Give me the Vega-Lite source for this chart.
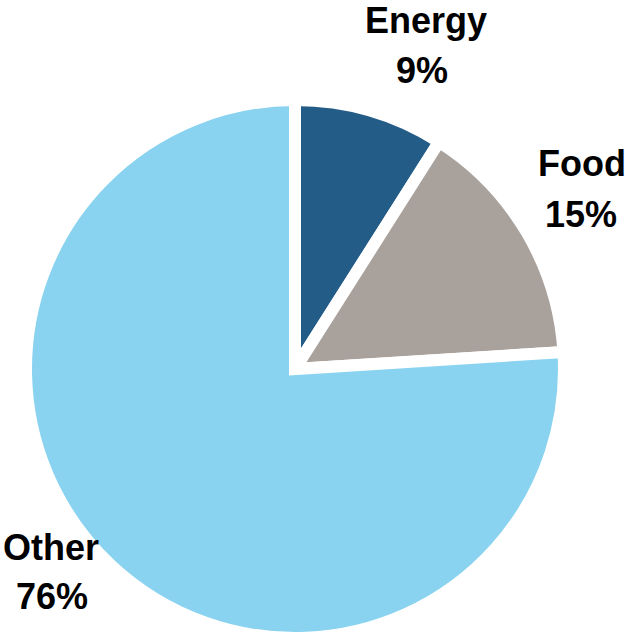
{
  "$schema": "https://vega.github.io/schema/vega-lite/v6.json",
  "width": 532,
  "height": 532,
  "autosize": {"type": "none"},
  "padding": {"left": 29, "top": 103, "right": 64, "bottom": 0},
  "background": "white",
  "data": {
    "values": [
      {"category": "Energy", "value": 9, "pct": "9%"},
      {"category": "Food", "value": 15, "pct": "15%"},
      {"category": "Other", "value": 76, "pct": "76%"}
    ]
  },
  "encoding": {
    "theta": {"field": "value", "type": "quantitative", "stack": true},
    "order": {"field": "category", "type": "nominal"}
  },
  "layer": [
    {
      "mark": {"type": "arc", "outerRadius": 269, "stroke": "white", "strokeWidth": 12, "strokeJoin": "miter"},
      "encoding": {
        "color": {
          "field": "category",
          "type": "nominal",
          "scale": {"domain": ["Energy", "Food", "Other"], "range": ["#245C88", "#A9A19C", "#89D3F0"]},
          "legend": null
        }
      }
    },
    {
      "mark": {
        "type": "text",
        "radius": 330,
        "font": "Liberation Sans",
        "fontWeight": "bold",
        "fontSize": 36,
        "align": "center",
        "baseline": "alphabetic",
        "color": "black",
        "dx": {"expr": "datum.category == 'Energy' ? 39 : datum.category == 'Food' ? 3 : -18"},
        "dy": {"expr": "datum.category == 'Energy' ? -19 : datum.category == 'Food' ? -25 : -50"}
      },
      "encoding": {
        "detail": {"field": "category", "type": "nominal"},
        "text": {"field": "category", "type": "nominal"}
      }
    },
    {
      "mark": {
        "type": "text",
        "radius": 330,
        "font": "Liberation Sans",
        "fontWeight": "bold",
        "fontSize": 36,
        "align": "center",
        "baseline": "alphabetic",
        "color": "black",
        "dx": {"expr": "datum.category == 'Energy' ? 35 : datum.category == 'Food' ? 2 : -17"},
        "dy": {"expr": "datum.category == 'Energy' ? 31 : datum.category == 'Food' ? 26 : -1"}
      },
      "encoding": {
        "detail": {"field": "category", "type": "nominal"},
        "text": {"field": "pct", "type": "nominal"}
      }
    }
  ]
}
